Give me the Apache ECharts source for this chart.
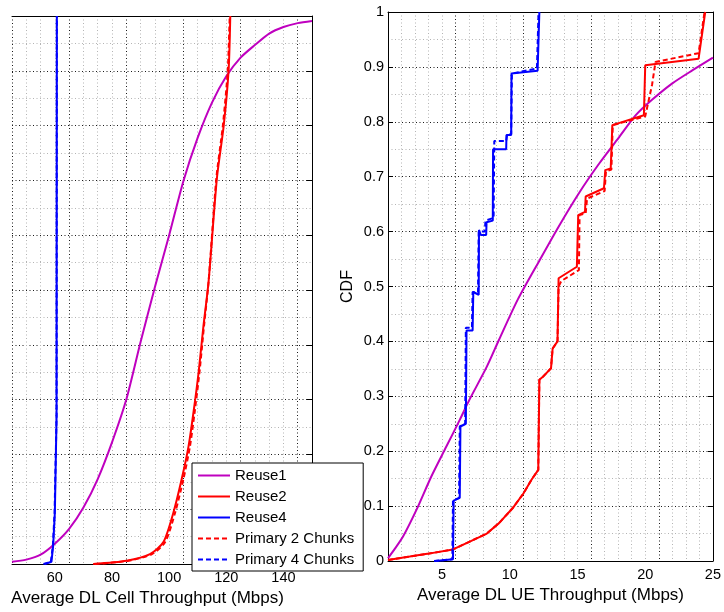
<!DOCTYPE html>
<html>
<head>
<meta charset="utf-8">
<title>CDF throughput</title>
<script src="https://cdn.jsdelivr.net/npm/echarts@6/dist/echarts.min.js"></script>
<style>
  html, body { margin: 0; padding: 0; background: #fff; }
  #chart { width: 724px; height: 612px; }
</style>
</head>
<body>
<div id="chart"></div>
<script>
// legend names
const names = ['Reuse1', 'Reuse2', 'Reuse4', 'Primary 2 Chunks', 'Primary 4 Chunks'];

// left plot: average DL cell throughput (Mbps) vs CDF
const cellReuse1 = [[45,0.004],[50,0.008],[55,0.017],[60,0.037],[65,0.064],[70,0.103],[75,0.155],[80,0.222],[85,0.30],[90,0.405],[95,0.505],[100,0.60],[105,0.699],[110,0.778],[115,0.842],[120,0.89],[125,0.924],[130,0.947],[135,0.968],[140,0.980],[145,0.987],[150,0.991]];
const cellReuse2 = [[73.4,0],[85.1,0.006],[93.3,0.018],[98,0.04],[101.5,0.094],[104.4,0.155],[106.8,0.215],[108.5,0.276],[110.3,0.349],[112,0.434],[113.8,0.515],[116.7,0.703],[119.1,0.80],[120.8,0.90],[121.4,1]];
const cellReuse4 = [[56.5,0],[58.8,0.004],[59.4,0.033],[60,0.094],[60.6,0.27],[60.7,1]];
const cellPrimary2 = [[74,0],[85.8,0.006],[94,0.018],[98.6,0.04],[102.1,0.094],[105,0.155],[107.3,0.215],[108.9,0.276],[110.6,0.349],[112.2,0.434],[113.8,0.515],[116.5,0.703],[118.8,0.80],[120.5,0.90],[121.2,1]];
const cellPrimary4 = [[56,0],[58.6,0.004],[59.3,0.033],[59.9,0.094],[60.6,0.27],[60.7,1]];

// right plot: average DL UE throughput (Mbps) vs CDF
const ueReuse1 = [[1,0.005],[1.5,0.022],[2.1,0.044],[3.1,0.093],[4.2,0.154],[5.3,0.208],[6.3,0.257],[7,0.293],[8.3,0.354],[9.2,0.403],[10.6,0.477],[12.2,0.548],[13.6,0.609],[15.1,0.67],[16.6,0.724],[18.1,0.773],[19.3,0.812],[20.5,0.84],[22,0.87],[23.5,0.894],[25,0.917]];
const ueReuse2 = [[1,0.002],[2.6,0.008],[3.9,0.013],[5.8,0.021],[7,0.035],[8.3,0.05],[9.2,0.069],[10.2,0.096],[11,0.123],[11.6,0.148],[12.1,0.166],[12.18,0.33],[12.42,0.335],[13.04,0.351],[13.16,0.387],[13.52,0.40],[13.6,0.515],[14.95,0.536],[15.05,0.63],[15.55,0.636],[15.6,0.664],[16.95,0.679],[17.05,0.712],[17.45,0.715],[17.57,0.794],[19.9,0.812],[20.0,0.903],[23.94,0.915],[24.43,1]];
const ueReuse4 = [[4.5,0],[5.8,0.003],[5.85,0.11],[6.3,0.115],[6.35,0.245],[6.75,0.25],[6.8,0.42],[7.25,0.42],[7.3,0.49],[7.7,0.485],[7.72,0.603],[7.85,0.594],[8.25,0.594],[8.28,0.617],[8.74,0.62],[8.76,0.75],[9.73,0.75],[9.75,0.776],[10.1,0.776],[10.12,0.888],[12.05,0.893],[12.18,1]];
const uePrimary2 = [[1,0.002],[2.6,0.008],[3.9,0.013],[5.8,0.021],[7,0.035],[8.3,0.05],[9.2,0.069],[10.2,0.096],[11,0.123],[11.6,0.148],[12.1,0.166],[12.18,0.33],[12.42,0.335],[13.04,0.351],[13.16,0.387],[13.52,0.40],[13.6,0.50],[13.8,0.51],[15.1,0.53],[15.15,0.63],[15.6,0.633],[15.7,0.66],[17.0,0.674],[17.1,0.71],[17.5,0.713],[17.6,0.794],[20.0,0.81],[20.5,0.867],[20.76,0.909],[23.94,0.925],[24.38,1]];
const uePrimary4 = [[4.4,0],[5.75,0.003],[5.8,0.11],[6.25,0.115],[6.3,0.245],[6.7,0.25],[6.75,0.425],[7.2,0.425],[7.25,0.49],[7.65,0.49],[7.7,0.60],[8.15,0.60],[8.2,0.62],[8.8,0.625],[8.85,0.765],[9.73,0.765],[9.8,0.776],[10.1,0.778],[10.15,0.888],[12.0,0.897],[12.12,1]];

const colors = { Reuse1: '#bf00bf', Reuse2: '#ff0000', Reuse4: '#0000ff', 'Primary 2 Chunks': '#ff0000', 'Primary 4 Chunks': '#0000ff' };
const font = "'Liberation Sans', Arial, Helvetica, sans-serif";

const majorGrid = '#1a1a1a';
const minorGrid = '#b4b4b4';
const dots = [1, 2.5];

function line(name, data, idx, smooth) {
  return {
    type: 'line', name: name, data: data,
    xAxisIndex: idx, yAxisIndex: idx,
    symbol: 'none', showSymbol: false,
    smooth: smooth ? 0.25 : false,
    lineStyle: { color: colors[name], width: 2, type: name.indexOf('Primary') === 0 ? [5, 3] : 'solid' },
    itemStyle: { color: colors[name] }
  };
}

// bottom x axis, x split lines every minor step, majors coloured black
function bottomX(grid, min, max, step, major, nameText, gap, pad) {
  const colorCycle = [];
  for (let i = 0; i < Math.round(major / step); i++) colorCycle.push(minorGrid);
  colorCycle[colorCycle.length - 1] = majorGrid;
  // first split line sits at min, so rotate to put black on multiples of major
  const offset = Math.round((min % major) / step);
  const rot = colorCycle.slice(colorCycle.length - offset).concat(colorCycle.slice(0, colorCycle.length - offset));
  return {
    type: 'value', gridIndex: grid, position: 'bottom', min: min, max: max, interval: step,
    axisLine: { show: true, onZero: false, lineStyle: { color: '#000', width: 1 } },
    axisTick: { show: false },
    axisLabel: {
      margin: 6, color: '#000', fontFamily: font, fontSize: 14.5,
      formatter: v => (Math.abs(v % major) < 1e-9 ? String(v) : '')
    },
    splitLine: { show: true, lineStyle: { color: rot, type: dots, width: 1 } },
    name: nameText, nameLocation: 'middle', nameGap: gap,
    nameTextStyle: { color: '#000', fontFamily: font, fontSize: 17, padding: pad }
  };
}

function topX(grid, min, max) {
  return {
    type: 'value', gridIndex: grid, position: 'top', min: min, max: max,
    axisLine: { show: true, onZero: false, lineStyle: { color: '#000', width: 1 } },
    axisTick: { show: false }, axisLabel: { show: false }, splitLine: { show: false }
  };
}

function yAxis(grid, pos, opts) {
  return Object.assign({
    type: 'value', gridIndex: grid, position: pos, min: 0, max: 1, interval: 0.1,
    axisLine: { show: true, onZero: false, lineStyle: { color: '#000', width: 1 } },
    axisTick: { show: true, inside: true, length: 5, lineStyle: { color: '#000' } },
    axisLabel: { show: false },
    splitLine: { show: false }
  }, opts);
}

const ySplit = {
  splitLine: { show: true, lineStyle: { color: majorGrid, type: dots, width: 1 } },
  minorTick: { show: false, splitNumber: 2 },
  minorSplitLine: { show: true, lineStyle: { color: minorGrid, type: dots, width: 1 } }
};

const chart = echarts.init(document.getElementById('chart'));
chart.setOption({
  animation: false,
  backgroundColor: '#fff',
  textStyle: { fontFamily: font },
  grid: [
    { left: 12, right: 412, top: 16, bottom: 47 },
    { left: 388, right: 8, top: 12, bottom: 51 }
  ],
  legend: {
    data: names, orient: 'vertical', left: 192, top: 463,
    itemWidth: 32, itemHeight: 14, itemGap: 6,
    padding: [5, 9, 4, 5],
    backgroundColor: '#fff', borderColor: '#000', borderWidth: 1, borderRadius: 0,
    itemStyle: { opacity: 0 },
    textStyle: { color: '#000', fontFamily: font, fontSize: 15 },
    selectedMode: false, z: 20
  },
  xAxis: [
    bottomX(0, 45, 150, 5, 20, 'Average DL Cell Throughput (Mbps)', 26, [0, 29, 0, 0]),
    topX(0, 45, 150),
    bottomX(1, 1, 25, 1, 5, 'Average DL UE Throughput (Mbps)', 24, 0),
    topX(1, 1, 25)
  ],
  yAxis: [
    yAxis(0, 'left', Object.assign({ axisLine: { show: false }, axisTick: { show: false } }, ySplit)),
    yAxis(0, 'right', {}),
    yAxis(1, 'left', Object.assign({
      axisLabel: { show: true, margin: 4, color: '#000', fontFamily: font, fontSize: 14.5 },
      name: 'CDF', nameLocation: 'middle', nameGap: 32,
      nameTextStyle: { color: '#000', fontFamily: font, fontSize: 16 }
    }, ySplit)),
    yAxis(1, 'right', {})
  ],
  series: [
    line('Reuse1', cellReuse1, 0, true),
    line('Reuse2', cellReuse2, 0, true),
    line('Reuse4', cellReuse4, 0, false),
    line('Primary 2 Chunks', cellPrimary2, 0, true),
    line('Primary 4 Chunks', cellPrimary4, 0, false),
    line('Reuse1', ueReuse1, 2, true),
    line('Reuse2', ueReuse2, 2, false),
    line('Reuse4', ueReuse4, 2, false),
    line('Primary 2 Chunks', uePrimary2, 2, false),
    line('Primary 4 Chunks', uePrimary4, 2, false)
  ]
});
</script>
</body>
</html>
